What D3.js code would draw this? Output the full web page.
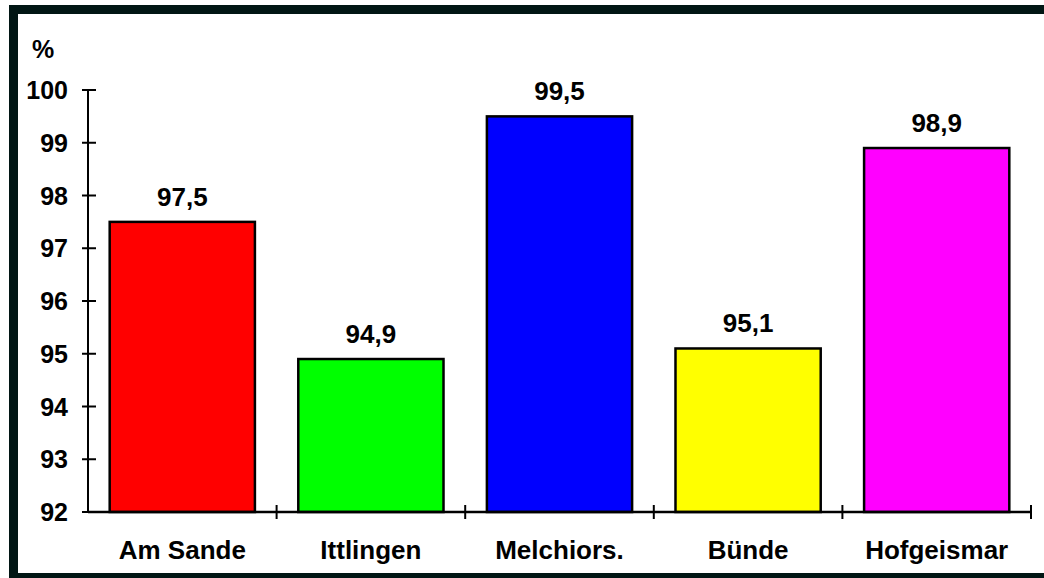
<!DOCTYPE html>
<html>
<head>
<meta charset="utf-8">
<script src="https://cdn.jsdelivr.net/npm/d3@7"></script>
<style>
  body { margin: 0; background: #fff; }
  text { font-family: Arial, "Liberation Sans", sans-serif; font-weight: bold; fill: #000; }
</style>
</head>
<body>
<svg id="chart" width="1044" height="578"></svg>
<script>
// daten
var categories = ["Am Sande", "Ittlingen", "Melchiors.", "Bünde", "Hofgeismar"];
var values = [97.5, 94.9, 99.5, 95.1, 98.9];
var labels = ["97,5", "94,9", "99,5", "95,1", "98,9"];
var colors = ["#ff0000", "#00ff00", "#0000ff", "#ffff00", "#ff00ff"];
var yTicks = [92, 93, 94, 95, 96, 97, 98, 99, 100];

var svg = d3.select("#chart");
var margin = { left: 88, right: 13, top: 90, bottom: 66 };
var width = 1044, height = 578;

// rahmen
svg.append("rect")
  .attr("x", 13.5).attr("y", 9.5)
  .attr("width", 1044).attr("height", 568)
  .attr("fill", "none")
  .attr("stroke", "#011614")
  .attr("stroke-width", 9);

var x0 = margin.left, x1 = width - margin.right;
var yBottom = height - margin.bottom, yTop = margin.top;

var xScale = d3.scaleBand()
  .domain(d3.range(categories.length))
  .range([x0, x1])
  .paddingInner(0.23)
  .paddingOuter(0.115);

var yScale = d3.scaleLinear()
  .domain([92, 100])
  .range([yBottom, yTop]);

var step = xScale.step();

// balken
svg.append("g").selectAll("rect")
  .data(values)
  .enter()
  .append("rect")
  .attr("x", function(d, i) { return xScale(i); })
  .attr("y", function(d) { return yScale(d); })
  .attr("width", xScale.bandwidth())
  .attr("height", function(d) { return yBottom - yScale(d); })
  .attr("fill", function(d, i) { return colors[i]; })
  .attr("stroke", "#000")
  .attr("stroke-width", 2.5);

// werte
svg.append("g").selectAll("text")
  .data(values)
  .enter()
  .append("text")
  .attr("x", function(d, i) { return xScale(i) + xScale.bandwidth() / 2; })
  .attr("y", function(d) { return yScale(d) - 16; })
  .attr("text-anchor", "middle")
  .style("font-size", "26px")
  .text(function(d, i) { return labels[i]; });

// y achse
var yAxis = svg.append("g");
yAxis.append("line")
  .attr("x1", x0).attr("x2", x0)
  .attr("y1", yTop).attr("y2", yBottom)
  .attr("stroke", "#000").attr("stroke-width", 2);
yAxis.selectAll("line.tick")
  .data(yTicks)
  .enter()
  .append("line")
  .attr("class", "tick")
  .attr("x1", x0 - 6).attr("x2", function(d) { return d === 92 ? x0 : x0 + 8; })
  .attr("y1", function(d) { return yScale(d); })
  .attr("y2", function(d) { return yScale(d); })
  .attr("stroke", "#000").attr("stroke-width", 2);
yAxis.selectAll("text")
  .data(yTicks)
  .enter()
  .append("text")
  .attr("x", 68)
  .attr("y", function(d) { return yScale(d); })
  .attr("dy", "0.36em")
  .attr("text-anchor", "end")
  .style("font-size", "25px")
  .text(function(d) { return d; });

svg.append("text")
  .attr("x", 32).attr("y", 58)
  .style("font-size", "25px")
  .text("%");

// x achse
var xAxis = svg.append("g");
xAxis.append("line")
  .attr("x1", x0).attr("x2", x1)
  .attr("y1", yBottom).attr("y2", yBottom)
  .attr("stroke", "#000").attr("stroke-width", 2.5);
xAxis.selectAll("line.tick")
  .data(d3.range(1, categories.length + 1))
  .enter()
  .append("line")
  .attr("class", "tick")
  .attr("x1", function(i) { return x0 + i * step; })
  .attr("x2", function(i) { return x0 + i * step; })
  .attr("y1", yBottom - 7).attr("y2", yBottom + 7)
  .attr("stroke", "#000").attr("stroke-width", 2);
xAxis.selectAll("text")
  .data(categories)
  .enter()
  .append("text")
  .attr("x", function(d, i) { return x0 + (i + 0.5) * step; })
  .attr("y", 559)
  .attr("text-anchor", "middle")
  .style("font-size", "26px")
  .text(function(d) { return d; });
</script>
</body>
</html>
